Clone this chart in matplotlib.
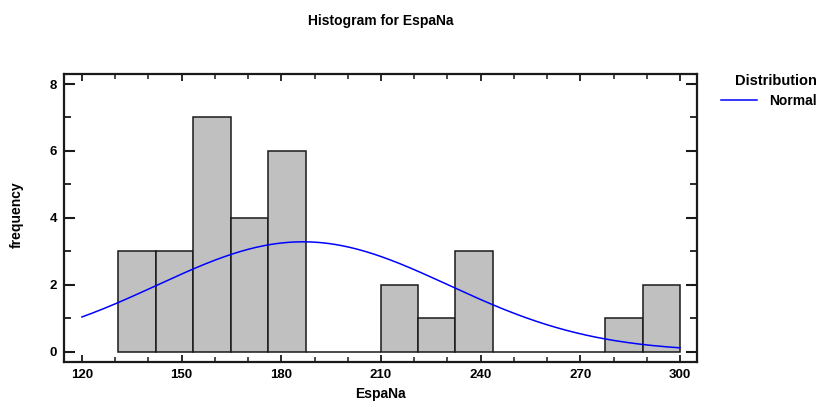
import numpy as np
import matplotlib
matplotlib.use("Agg")
import matplotlib.pyplot as plt

# ---- data ----
bin_lower = 131.0
bin_upper = 300.0
counts = [3, 3, 7, 4, 6, 0, 0, 2, 1, 3, 0, 0, 0, 1, 2]
fit_mean = 186.5
fit_std = 43.8
x_ticks = [120, 150, 180, 210, 240, 270, 300]
y_ticks = [0, 2, 4, 6, 8]
title = "Histogram for EspaNa"
x_label = "EspaNa"
y_label = "frequency"

plt.rcParams['font.family'] = ['Liberation Sans', 'DejaVu Sans']
plt.rcParams['font.weight'] = 'bold'

fig = plt.figure(figsize=(8.25, 4.01), dpi=100)
ax = fig.add_axes([64/825, 1-361.7/401, (697-64)/825, (361.7-74)/401])

n = len(counts)
edges = np.linspace(bin_lower, bin_upper, n + 1)
width = edges[1] - edges[0]
ax.bar(edges[:-1], counts, width=width, align='edge', color='#c0c0c0',
       edgecolor='#1a1a1a', linewidth=1.1, zorder=2)

xs = np.linspace(120, 300, 300)
total = sum(counts)
ys = total * width * np.exp(-(xs - fit_mean)**2 / (2 * fit_std**2)) / (fit_std * np.sqrt(2*np.pi))
ax.plot(xs, ys, color='#0000ff', linewidth=1.1, label='Normal', zorder=3)

ax.set_xlim(114.6, 305.1)
ax.set_ylim(-0.3, 8.3)
ax.set_xticks(x_ticks)
ax.set_xticks(np.arange(120, 301, 10), minor=True)
ax.set_yticks(y_ticks)
ax.set_yticks(np.arange(0, 9, 1), minor=True)
ax.tick_params(axis='both', which='both', direction='in', top=True, right=True,
               color='#1a1a1a', labelsize=9.5)
ax.tick_params(axis='y', which='major', length=8, width=1.5, pad=5)
ax.tick_params(axis='y', which='minor', length=5, width=1.3)
ax.tick_params(axis='x', which='major', length=5, width=1.3, pad=5)
ax.tick_params(axis='x', which='minor', length=3.5, width=1.1)
for s in ax.spines.values():
    s.set_linewidth(1.6)
    s.set_color('#1a1a1a')

ax.set_title(title, fontsize=10, fontweight='bold', pad=35)
ax.set_xlabel(x_label, fontsize=10, fontweight='bold')
ax.set_ylabel(y_label, fontsize=10, fontweight='bold')
ax.xaxis.set_label_coords(0.5, -0.088)
ax.yaxis.set_label_coords(-0.064, 0.51)

leg = ax.legend(title='Distribution', loc='upper left', bbox_to_anchor=(721/825, 1-74/401),
                bbox_transform=fig.transFigure, frameon=False, alignment='right',
                handlelength=2.6, handletextpad=0.9, borderpad=0, borderaxespad=0,
                labelspacing=0.4,
                fontsize=10, title_fontproperties={'weight': 'bold', 'size': 10.5})

fig.savefig('out.png', dpi=100)
